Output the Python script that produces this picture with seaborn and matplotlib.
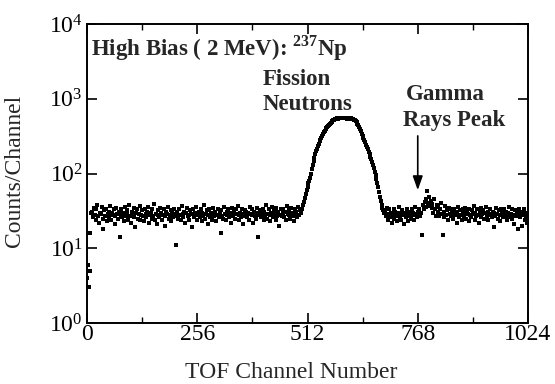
import numpy as np
import pandas as pd
import seaborn as sns
import matplotlib.pyplot as plt
from matplotlib.ticker import FixedLocator, LogLocator, NullLocator

# counts, every second TOF channel
start_counts = [4, 6, 3, 5, 16, 30]  # channels 0..10

left_background = [
    31, 26, 35, 28, 24, 33, 38, 27, 22, 30, 29, 36, 25, 18, 32, 27, 34, 23, 29, 31,
    26, 37, 24, 30, 28, 33, 21, 27, 35, 29, 25, 31, 14, 28, 34, 26, 30, 23, 36, 27,
    29, 32, 24, 38, 27, 22, 31, 28, 35, 26, 19, 30, 33, 25, 29, 37, 24, 28, 32, 27,
    23, 34, 29, 26, 31, 36, 22, 28, 30, 25, 33, 27, 39, 24, 29, 21, 32, 28, 26, 35,
    30, 24, 28, 33, 27, 20, 31, 29, 36, 25, 28, 32, 23, 30, 26, 34, 29, 11, 27, 31,
    25, 33, 28, 24, 37, 29, 26, 31, 22, 30, 35, 27, 28, 24, 32, 29, 19, 33, 26, 30,
    28, 36, 24, 29, 31, 26, 34, 23, 30, 27, 38, 25, 29, 32, 21, 28, 33, 26, 30, 24,
    35, 27, 29, 31, 23, 28, 34, 26, 30, 16, 32, 27, 25, 36, 29, 24, 31, 28, 33, 26,
    30, 22, 35, 28, 27, 31, 25, 33, 29, 37, 24, 28, 30, 26, 34, 21, 29, 32, 27, 31,
    26, 30, 24, 36, 29, 28, 33, 22, 31, 27, 25, 35, 30, 14, 28, 32, 26, 29, 34, 24,
    31, 27, 38, 25, 29, 33, 28, 23, 30, 36, 26, 32, 29, 24, 35, 27, 31, 20, 28, 33,
    27, 34, 30, 26, 31, 24, 37, 29, 28, 32, 25, 35, 30, 27, 23, 33, 29, 31, 26, 36,
    28, 32, 30, 34,
]  # channels 12..498

fission_peak = [
    34, 38, 42, 47, 53, 60, 67, 74, 80, 88, 100, 114, 128, 145, 162, 180,
    198, 215, 232, 250, 268, 285, 302, 320, 338, 356, 372, 388, 404, 420,
    436, 450, 466, 480, 494, 505, 516, 526, 533, 540, 546, 540, 552, 548,
    556, 550, 545, 558, 552, 547, 556, 550, 543, 552, 546, 540, 548, 536,
    542, 530, 524, 512, 498, 482, 462, 440, 416, 390, 366, 342, 320, 298,
    278, 260, 242, 226, 212, 196, 182, 168, 155, 142, 130, 118, 106, 95,
    84, 74, 65, 56, 49, 43, 38, 35, 32, 30,
]  # channels 500..690

right_background = [
    31, 27, 35, 24, 29, 33, 26, 30, 22, 28, 34, 25, 31, 27, 23, 30, 36, 26, 29, 24,
    32, 28, 21, 30, 26, 34, 29, 23, 31, 27, 25, 33, 28, 30, 24, 36, 29, 26, 31, 28,
    34, 27, 30, 15, 38, 33, 42, 36, 45, 59, 40, 48, 37, 43, 35, 39, 30, 46, 34, 27,
    38, 31, 36, 27, 33, 40, 29, 15, 26, 31, 37, 28, 32, 24, 35, 29, 33, 27, 30, 25,
    34, 28, 31, 22, 29, 36, 26, 32, 28, 24, 33, 30, 27, 35, 25, 31, 29, 23, 34, 28,
    26, 32, 29, 37, 24, 30, 27, 33, 28, 22, 31, 35, 26, 29, 32, 25, 30, 36, 27, 31,
    24, 29, 34, 28, 26, 31, 19, 30, 27, 35, 29, 25, 32, 28, 23, 33, 30, 26, 34, 29,
    27, 31, 24, 30, 36, 26, 29, 33, 25, 28, 21, 32, 27, 30, 18, 29, 34, 26, 31, 20,
    28, 33, 24, 30, 27, 22,
]  # channels 692..1022

counts = start_counts + left_background + fission_peak + right_background
channels = np.arange(0, 2 * len(counts), 2)
df = pd.DataFrame({"channel": channels, "counts": counts})

x_major = [0, 256, 512, 768, 1024]
x_minor = [128, 384, 640, 896]

sns.set_theme(style="ticks")
plt.rcParams["font.family"] = ["Liberation Serif", "DejaVu Serif"]
plt.rcParams["mathtext.fontset"] = "custom"
plt.rcParams["mathtext.rm"] = "Liberation Serif"
plt.rcParams["mathtext.bf"] = "Liberation Serif:bold"

fig = plt.figure(figsize=(5.55, 3.84), dpi=100)
ax = fig.add_axes([87 / 555, 61 / 384, 441 / 555, 299 / 384])

sns.scatterplot(data=df, x="channel", y="counts", ax=ax, marker="s",
                s=7, color="black", linewidth=0, legend=False)

ax.set_yscale("log")
ax.set_xlim(0, 1024)
ax.set_ylim(1, 1e4)
ax.xaxis.set_major_locator(FixedLocator(x_major))
ax.xaxis.set_minor_locator(FixedLocator(x_minor))
ax.yaxis.set_major_locator(LogLocator(base=10, numticks=10))
ax.yaxis.set_minor_locator(NullLocator())
ax.tick_params(which="both", direction="in", top=True, right=True,
               labelsize=17, colors="black")
ax.tick_params(axis="x", pad=1)
ax.tick_params(axis="y", pad=3)
ax.tick_params(which="major", length=7, width=1.2)
ax.tick_params(which="minor", length=4, width=1.0)
for s in ax.spines.values():
    s.set_linewidth(1.4)
    s.set_color("black")

ax.set_xlabel("TOF Channel Number", fontsize=17)
ax.set_ylabel("Counts/Channel", fontsize=17)
ax.xaxis.set_label_coords(0.463, -0.132)
ax.yaxis.set_label_coords(-0.14, 0.51)

bold = dict(fontsize=16.5, fontweight="bold", transform=ax.transAxes)
ax.text(0.009, 0.92, r"High Bias ( 2 MeV): $^{\mathbf{237}}$Np", ha="left", va="center", **bold)
ax.text(0.399, 0.813, "Fission", ha="left", va="center", **bold)
ax.text(0.399, 0.732, "Neutrons", ha="left", va="center", **bold)
ax.text(0.812, 0.763, "Gamma", ha="center", va="center", **bold)
ax.text(0.832, 0.676, "Rays Peak", ha="center", va="center", **bold)

ax.annotate("", xy=(768, 0.435), xytext=(768, 0.635),
            xycoords=("data", "axes fraction"), textcoords=("data", "axes fraction"),
            arrowprops=dict(arrowstyle="-|>,head_length=0.7,head_width=0.25",
                            color="black", lw=1.2))

fig.savefig("out.png", dpi=100)
